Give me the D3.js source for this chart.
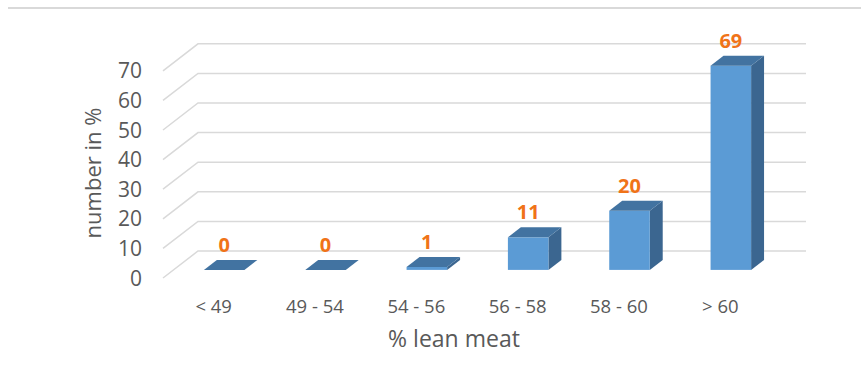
<!DOCTYPE html>
<html lang="en">
<head>
<meta charset="utf-8">
<title>lean meat</title>
<script src="https://cdn.jsdelivr.net/npm/d3@7"></script>
<style>
  body { margin: 0; background: #fff; }
  text { font-family: "Open Sans", sans-serif; fill: #595959; }
</style>
</head>
<body>
<script>
var categories = ["< 49", "49 - 54", "54 - 56", "56 - 58", "58 - 60", "> 60"];
var values = [0, 0, 1, 11, 20, 69];
var yTicks = [0, 10, 20, 30, 40, 50, 60, 70];

var w = 861, h = 390;
// floor depth (front edge -> back wall)
var depthX = 35, depthY = 27;
var z0 = 0.3, z1 = 0.67;   // bar front / back within the depth

var svg = d3.select("body").append("svg")
    .attr("width", w).attr("height", h);

// x at the front edge of the floor
var x = d3.scaleBand().domain(categories).range([163, 771]);
// y at the front edge of the floor
var y = d3.scaleLinear().domain([0, 70]).range([278, 278 - 70 * 2.96]);

function px(xf, z) { return xf + z * depthX; }
function py(v, z) { return y(v) - z * depthY; }

// top border
svg.append("line")
    .attr("x1", 8).attr("x2", w).attr("y1", 8).attr("y2", 8)
    .attr("stroke", "#d9d9d9").attr("stroke-width", 2);

// gridlines: side wall diagonal + back wall
var grid = svg.append("g").attr("stroke", "#d9d9d9").attr("stroke-width", 1.5).attr("fill", "none");
grid.selectAll("path").data(yTicks).enter().append("path")
    .attr("d", function(d) {
        var r = x.range();
        return "M" + px(r[0], 0) + "," + py(d, 0) +
               "L" + px(r[0], 1) + "," + py(d, 1) +
               "L" + px(r[1], 1) + "," + py(d, 1);
    });

// y tick labels
svg.selectAll("text.ytick").data(yTicks).enter().append("text")
    .attr("class", "ytick")
    .attr("x", 142).attr("y", function(d) { return y(d) + 7.5; })
    .attr("text-anchor", "end")
    .style("font-size", "21px")
    .text(function(d) { return d; });

// bars
var bw = x.bandwidth() * 0.4;
var bars = svg.append("g").selectAll("g").data(values).enter().append("g");

function barLeft(i) { return px(x(categories[i]) + (x.bandwidth() - bw) / 2, z0); }

// side face
bars.append("path")
    .attr("fill", "#3b6690")
    .attr("d", function(d, i) {
        var l = barLeft(i) + bw, dz = z1 - z0;
        var b = py(0, z0), t = py(d, z0);
        return "M" + l + "," + b + "L" + (l + dz * depthX) + "," + (b - dz * depthY) +
               "L" + (l + dz * depthX) + "," + (t - dz * depthY) + "L" + l + "," + t + "Z";
    });
// front face
bars.append("rect")
    .attr("fill", "#5b9bd5")
    .attr("x", function(d, i) { return barLeft(i); })
    .attr("y", function(d) { return py(d, z0); })
    .attr("width", bw)
    .attr("height", function(d) { return py(0, z0) - py(d, z0); });
// top face
bars.append("path")
    .attr("fill", "#4273a1")
    .attr("d", function(d, i) {
        var l = barLeft(i), dz = z1 - z0, t = py(d, z0);
        return "M" + l + "," + t + "L" + (l + bw) + "," + t +
               "L" + (l + bw + dz * depthX) + "," + (t - dz * depthY) +
               "L" + (l + dz * depthX) + "," + (t - dz * depthY) + "Z";
    });

// data labels
svg.selectAll("text.lbl").data(values).enter().append("text")
    .attr("class", "lbl")
    .attr("x", function(d, i) { return barLeft(i) + bw / 2; })
    .attr("y", function(d) { return py(d, z1) - 8; })
    .attr("text-anchor", "middle")
    .style("font-size", "20px").style("font-weight", "bold").style("fill", "#f07318")
    .text(function(d) { return d; });

// category labels
svg.selectAll("text.xcat").data(categories).enter().append("text")
    .attr("class", "xcat")
    .attr("x", function(d) { return x(d) + x.bandwidth() / 2; })
    .attr("y", 313)
    .attr("text-anchor", "middle")
    .style("font-size", "18.5px")
    .text(function(d) { return d; });

// axis titles
svg.append("text")
    .attr("x", 454).attr("y", 347)
    .attr("text-anchor", "middle")
    .style("font-size", "23px")
    .text("% lean meat");

svg.append("text")
    .attr("transform", "translate(101,173) rotate(-90)")
    .attr("text-anchor", "middle")
    .style("font-size", "22px")
    .text("number in %");
</script>
</body>
</html>
